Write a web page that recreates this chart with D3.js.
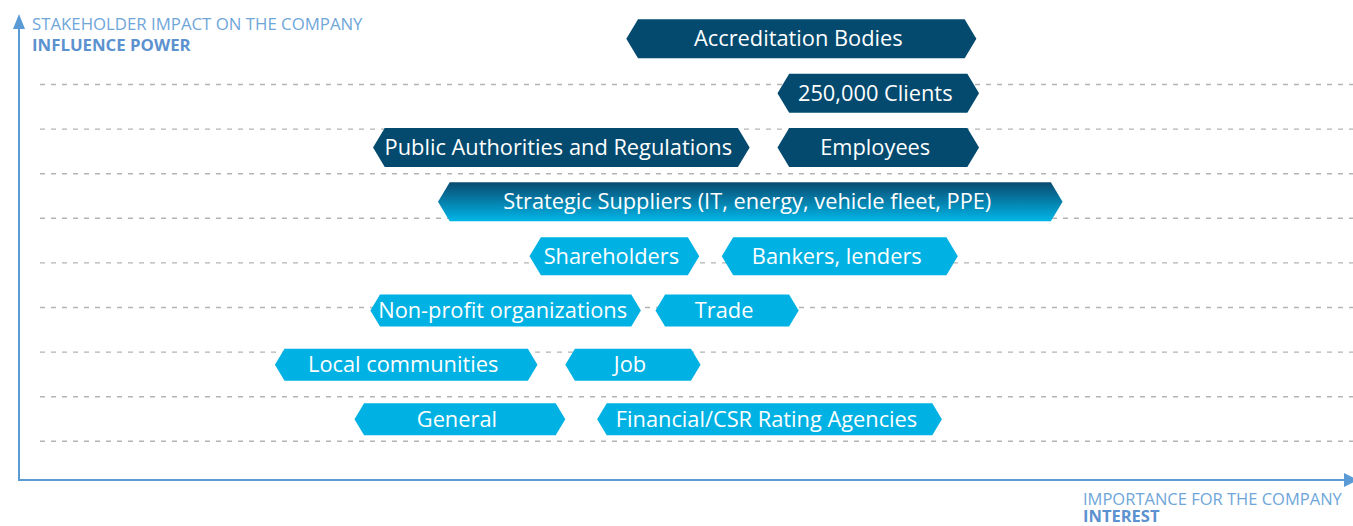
<!DOCTYPE html>
<html>
<head>
<meta charset="utf-8">
<script src="https://cdn.jsdelivr.net/npm/d3@7"></script>
<style>
  html, body { margin: 0; padding: 0; background: #fff; }
  svg { display: block; }
</style>
</head>
<body>
<div id="chart"></div>
<script>
// Stakeholder rows, top (highest influence) to bottom
const rows = [0, 1, 2, 3, 4, 5, 6, 7];

// Each stakeholder: label, row, interest span (start/end on a 0-100 interest scale), tone
const labels = [
  'Accreditation Bodies',
  '250,000 Clients',
  'Public Authorities and Regulations', 'Employees',
  'Strategic Suppliers (IT, energy, vehicle fleet, PPE)',
  'Shareholders', 'Bankers, lenders',
  'Non-profit organizations', 'Trade',
  'Local communities', 'Job',
  'General', 'Financial/CSR Rating Agencies'
];
const rowOf   = [0, 1, 2, 2, 3, 4, 4, 5, 5, 6, 6, 7, 7];
const startAt = [45.8, 57.2, 26.7, 57.2, 31.6, 38.5, 53.0, 26.5, 48.0, 19.3, 41.2, 25.3, 43.6];
const endAt   = [72.2, 72.4, 55.1, 72.4, 78.7, 51.3, 70.8, 46.9, 58.8, 39.1, 51.4, 41.2, 69.6];
const tone    = ['dark', 'dark', 'dark', 'dark', 'mixed', 'light', 'light', 'light', 'light', 'light', 'light', 'light', 'light'];

// dashed guide lines (influence levels)
const gridLevels = [1, 2, 3, 4, 5, 6, 7, 8, 9];

const width = 1353, height = 526;
const axisX = 19, axisY = 480;
const axisColor = '#5b9bd5';

const svg = d3.select('#chart').append('svg')
  .attr('width', width)
  .attr('height', height);

const defs = svg.append('defs');
const grad = defs.append('linearGradient')
  .attr('id', 'mixGrad')
  .attr('x1', 0).attr('y1', 0).attr('x2', 0).attr('y2', 1);
grad.append('stop').attr('offset', '0%').attr('stop-color', '#0a4b70');
grad.append('stop').attr('offset', '100%').attr('stop-color', '#00b6e8');

// scales
const x = d3.scaleLinear().domain([0, 100]).range([axisX, 1345]);
const y = d3.scalePoint().domain(rows).range([38.8, 419.2]);
const yGrid = d3.scaleLinear().domain([0, 10]).range([485.9, 39.9]);

const fills = { dark: '#034a6e', light: '#00b2e3', mixed: 'url(#mixGrad)' };

// grid lines
svg.append('g')
  .selectAll('line')
  .data(gridLevels)
  .enter().append('line')
  .attr('x1', 40)
  .attr('x2', width)
  .attr('y1', d => yGrid(d))
  .attr('y2', d => yGrid(d))
  .attr('stroke', '#b4b4b4')
  .attr('stroke-width', 1.4)
  .attr('stroke-dasharray', '5,6');

// axes with arrow heads
svg.append('line')
  .attr('x1', axisX).attr('y1', axisY + 1)
  .attr('x2', axisX).attr('y2', 26)
  .attr('stroke', axisColor).attr('stroke-width', 2);
svg.append('path')
  .attr('d', 'M' + axisX + ',14L' + (axisX + 6) + ',29L' + (axisX - 6) + ',29Z')
  .attr('fill', axisColor);
svg.append('line')
  .attr('x1', axisX - 1).attr('y1', axisY)
  .attr('x2', 1346).attr('y2', axisY)
  .attr('stroke', axisColor).attr('stroke-width', 2);
svg.append('path')
  .attr('d', 'M1358,' + axisY + 'L1344,' + (axisY - 7) + 'L1344,' + (axisY + 7) + 'Z')
  .attr('fill', axisColor);

// axis captions
const cap = svg.append('g').style('font-family', '"Open Sans", sans-serif');
cap.append('text').attr('x', 32).attr('y', 29.5)
  .attr('fill', '#6ea6d9').style('font-size', '16.8px')
  .text('STAKEHOLDER IMPACT ON THE COMPANY');
cap.append('text').attr('x', 32).attr('y', 50.5)
  .attr('fill', '#5b92cf').style('font-size', '16.8px').style('font-weight', 'bold')
  .text('INFLUENCE POWER');
cap.append('text').attr('x', 1083).attr('y', 505)
  .attr('fill', '#6ea6d9').style('font-size', '16.5px')
  .text('IMPORTANCE FOR THE COMPANY');
cap.append('text').attr('x', 1083).attr('y', 521.5)
  .attr('fill', '#5b92cf').style('font-size', '16.5px').style('font-weight', 'bold')
  .text('INTEREST');

// hexagon tags
const data = labels.map((name, i) => ({
  name: name, row: rowOf[i], x0: startAt[i], x1: endAt[i], tone: tone[i]
}));

function rowHeight(r) {
  if (r <= 3) return 39;
  if (r === 4) return 38;
  return 32;
}

function hexPath(d) {
  const cy = y(d.row);
  const h = rowHeight(d.row);
  const a = x(d.x0), b = x(d.x1);
  const o = h * 0.3;
  return 'M' + a + ',' + cy +
    'L' + (a + o) + ',' + (cy - h / 2) +
    'L' + (b - o) + ',' + (cy - h / 2) +
    'L' + b + ',' + cy +
    'L' + (b - o) + ',' + (cy + h / 2) +
    'L' + (a + o) + ',' + (cy + h / 2) + 'Z';
}

const tags = svg.append('g').selectAll('g')
  .data(data)
  .enter().append('g');

tags.append('path')
  .attr('d', hexPath)
  .attr('fill', d => fills[d.tone]);

tags.append('text')
  .attr('x', d => (x(d.x0) + x(d.x1)) / 2 - 3)
  .attr('y', d => y(d.row))
  .attr('dy', '0.35em')
  .attr('text-anchor', 'middle')
  .attr('fill', '#ffffff')
  .style('font-family', '"Open Sans", sans-serif')
  .style('font-size', '21.8px')
  .text(d => d.name);
</script>
</body>
</html>
